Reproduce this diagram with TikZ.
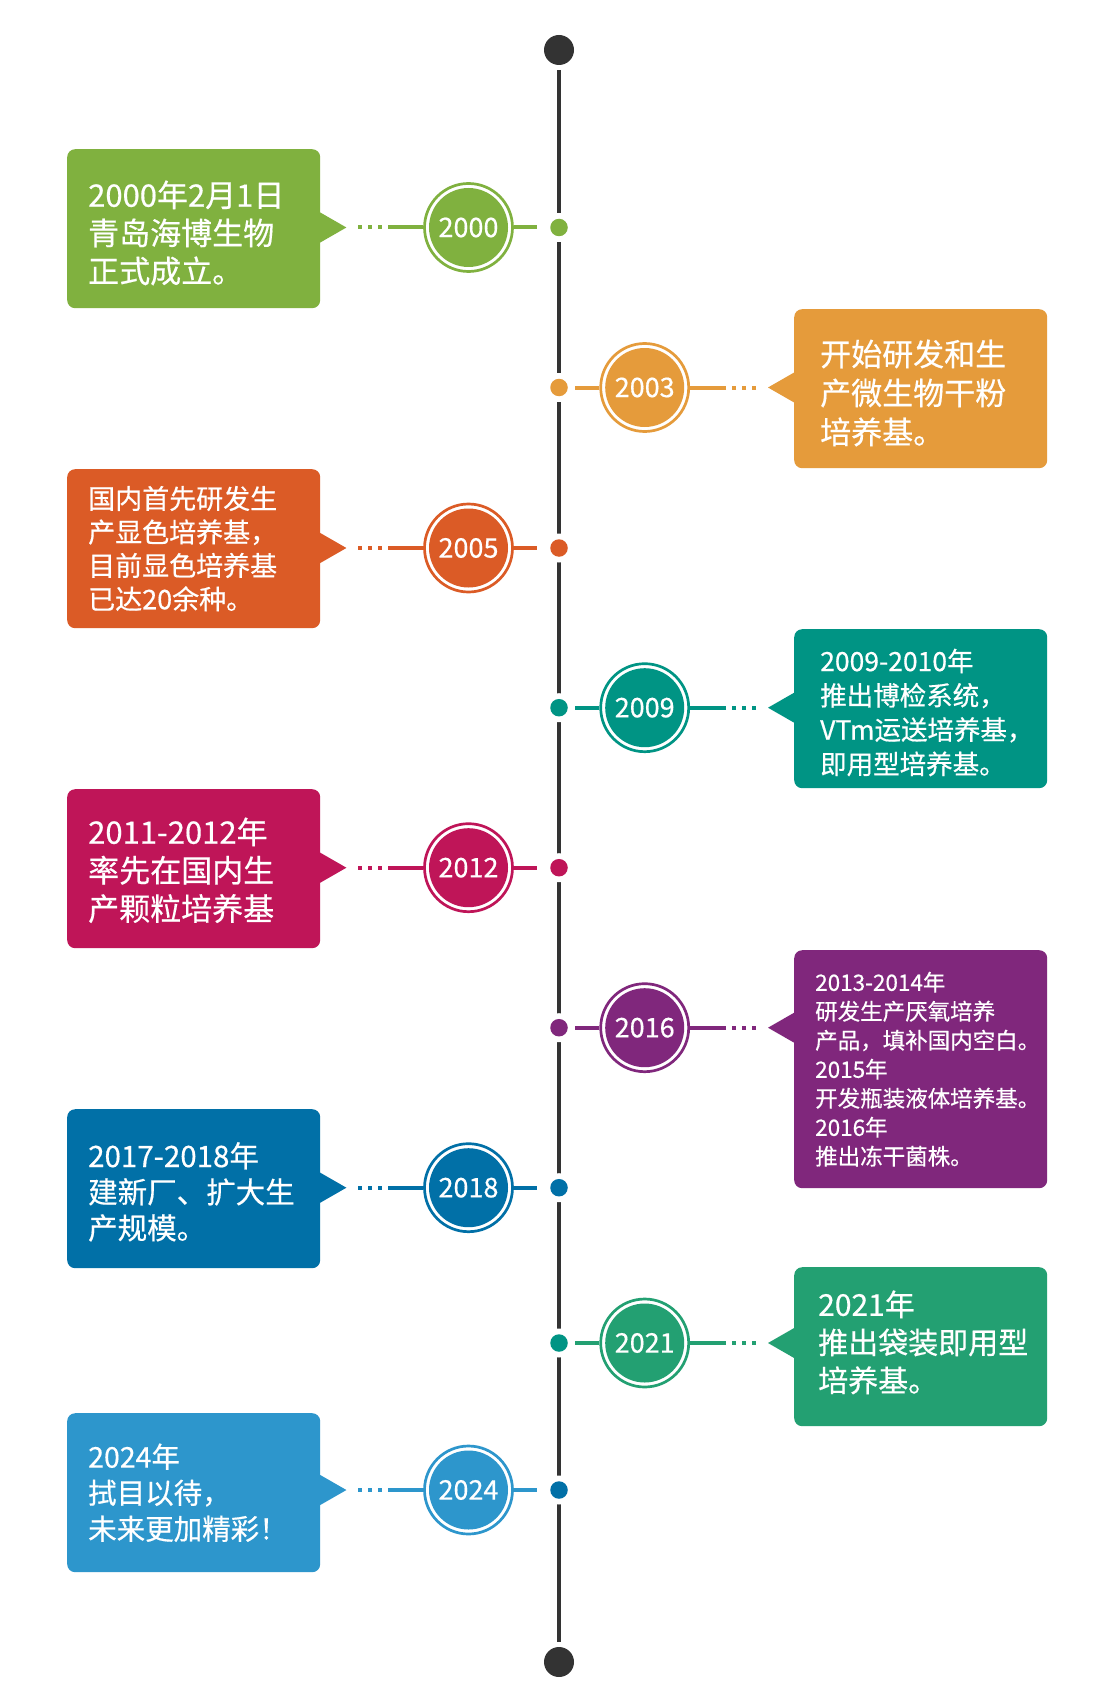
\documentclass[tikz,border=0pt]{standalone}
\usepackage{fontspec}
\setmainfont{Noto Sans CJK SC}[FakeBold=0.5]
\usetikzlibrary{calc}
\definecolor{cA}{HTML}{80B13F}
\definecolor{cB}{HTML}{E59B3B}
\definecolor{cC}{HTML}{DB5B26}
\definecolor{cD}{HTML}{009484}
\definecolor{cE}{HTML}{BF1558}
\definecolor{cF}{HTML}{80277C}
\definecolor{cG}{HTML}{0170A7}
\definecolor{cH}{HTML}{23A072}
\definecolor{cI}{HTML}{2D96CC}
\definecolor{tline}{HTML}{333333}
\tikzset{
  box/.style={rectangle, rounded corners=8pt, anchor=north west, minimum height=159pt, minimum width=253pt, inner sep=0pt},
  btext/.style={anchor=west, inner sep=0pt, align=left, text=white},
  ring/.style={circle, line width=2.7pt, minimum size=88pt, inner sep=0pt},
  core/.style={circle, minimum size=79pt, inner sep=0pt, text=white, font=\fontsize{27}{27}\selectfont},
  halo/.style={circle, fill=white, minimum size=29pt, inner sep=0pt},
  ydot/.style={circle, minimum size=17.5pt, inner sep=0pt},
  enddot/.style={circle, fill=tline, minimum size=30pt, inner sep=0pt},
  conn/.style={line width=4pt},
  dotted3/.style={dash pattern=on 4pt off 6pt on 4pt off 6pt on 4pt off 6pt on 400pt},
}
% #1 id, #2 colour, #3 dot colour, #4 y, #5 year, #6 box top, #7 box options, #8 text options and shift, #9 text
\newcommand\leftrow[9]{%
  \node[halo] (h#1) at (559,#4) {};
  \node[ydot, fill=#3] (d#1) at (h#1) {};
  \node[ring, draw=#2] (r#1) at (468.5,#4) {};
  \node[core, fill=#2] (c#1) at (r#1) {#5};
  \node[box, fill=#2, #7] (b#1) at (67,#6) {};
  \node[btext, xshift=21pt, #8] (x#1) at (b#1.west) {#9};
  \coordinate (t#1) at ($(b#1.east |- d#1)+(26,0)$);
  \fill[#2] (t#1) -- ($(b#1.east |- d#1)+(-1,-15.5)$) -- ($(b#1.east |- d#1)+(-1,15.5)$) -- cycle;
  \draw[conn, #2, shorten >=13pt] (r#1) -- (d#1);
  \draw[conn, #2, dotted3, shorten <=12pt] (t#1) -- (r#1);
}
\newcommand\rightrow[9]{%
  \node[halo] (h#1) at (559,#4) {};
  \node[ydot, fill=#3] (d#1) at (h#1) {};
  \node[ring, draw=#2] (r#1) at (644.7,#4) {};
  \node[core, fill=#2] (c#1) at (r#1) {#5};
  \node[box, fill=#2, #7] (b#1) at (794,#6) {};
  \node[btext, xshift=26pt, #8] (x#1) at (b#1.west) {#9};
  \coordinate (t#1) at ($(b#1.west |- d#1)+(-26,0)$);
  \fill[#2] (t#1) -- ($(b#1.west |- d#1)+(1,-15.5)$) -- ($(b#1.west |- d#1)+(1,15.5)$) -- cycle;
  \draw[conn, #2, shorten >=7.5pt] (r#1) -- (d#1);
  \draw[conn, #2, dotted3, shorten <=12pt] (t#1) -- (r#1);
}
\begin{document}
\begin{tikzpicture}[x=1pt,y=-1pt]
\useasboundingbox (0,0) rectangle (1104,1693);
\fill[white] (0,0) rectangle (1104,1693);
\node[enddot] (top) at (559,50) {};
\node[enddot] (bot) at (559,1662) {};
\draw[tline, line width=4.5pt, shorten <=5pt, shorten >=5pt] (top) -- (bot);

\leftrow{1}{cA}{cA}{227.5}{2000}{149}{}{font=\fontsize{31}{38}\selectfont, yshift=-4.3pt}{2000年2月1日\\青岛海博生物\\正式成立。}
\rightrow{2}{cB}{cB}{387.5}{2003}{309}{}{font=\fontsize{31}{39}\selectfont, yshift=-4.3pt}{开始研发和生\\产微生物干粉\\培养基。}
\leftrow{3}{cC}{cC}{548}{2005}{469}{}{font=\fontsize{27}{33.5}\selectfont}{国内首先研发生\\产显色培养基，\\目前显色培养基\\已达20余种。}
\rightrow{4}{cD}{cD}{707.7}{2009}{629}{}{font=\fontsize{26.5}{34.3}\selectfont, yshift=-3.8pt}{2009-2010年\\推出博检系统，\\VTm运送培养基，\\即用型培养基。}
\leftrow{5}{cE}{cE}{867.7}{2012}{789}{}{font=\fontsize{31}{38.3}\selectfont, yshift=-1.6pt}{2011-2012年\\率先在国内生\\产颗粒培养基}
\rightrow{6}{cF}{cF}{1027.7}{2016}{950}{minimum height=238pt}{font=\fontsize{22.5}{29}\selectfont, xshift=-5pt}{2013-2014年\\研发生产厌氧培养\\产品，填补国内空白。\\2015年\\开发瓶装液体培养基。\\2016年\\推出冻干菌株。}
\leftrow{7}{cG}{cG}{1187.7}{2018}{1109}{}{font=\fontsize{29.5}{36}\selectfont, yshift=-3.2pt}{2017-2018年\\建新厂、扩大生\\产规模。}
\rightrow{8}{cH}{cD}{1343}{2021}{1267}{}{font=\fontsize{30}{38}\selectfont, yshift=4.3pt, xshift=-2pt}{2021年\\推出袋装即用型\\培养基。}
\leftrow{9}{cI}{cG}{1490}{2024}{1413}{}{font=\fontsize{28.5}{36}\selectfont}{2024年\\拭目以待，\\未来更加精彩！}
\end{tikzpicture}
\end{document}
